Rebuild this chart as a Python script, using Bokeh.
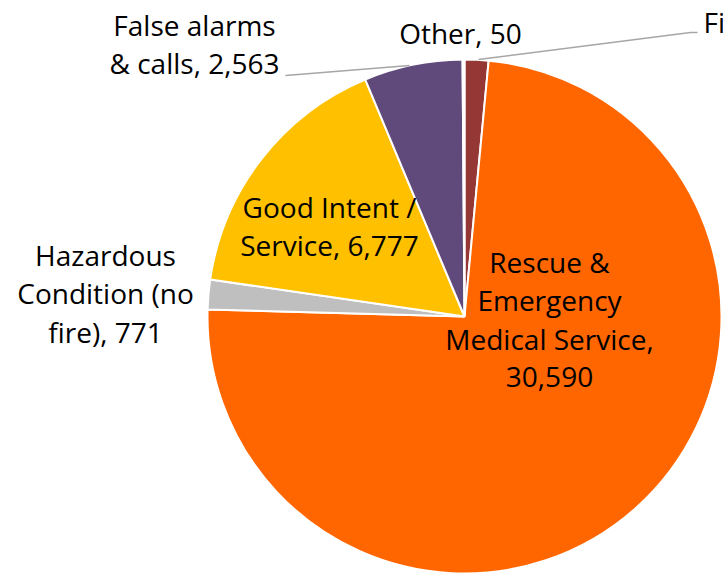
import math
from bokeh.plotting import figure
from bokeh.models import ColumnDataSource, Range1d
from bokeh.core.properties import value
from bokeh.embed import file_html
from bokeh.resources import INLINE

# ---- data ----
categories = ["Fire", "Rescue & Emergency Medical Service", "Hazardous Condition (no fire)",
              "Good Intent / Service", "False alarms & calls", "Other"]
values = [620, 30590, 771, 6777, 2563, 50]
colors = ["#953735", "#FF6600", "#BFBFBF", "#FFC000", "#604A7B", "#4BACC6"]
label_templates = ["Fire, {v}", "Rescue &\nEmergency\nMedical Service,\n{v}",
                   "Hazardous\nCondition (no\nfire), {v}", "Good Intent /\nService, {v}",
                   "False alarms\n& calls, {v}", "Other, {v}"]

# ---- layout (picture pixel coordinates) ----
W, H = 723, 578
def fx(wx): return wx
def fy(wy): return H - wy

cx, cy, R = 464, 316, 257
# label anchor: (x, first baseline, align)
label_pos = [(703, 32, "left"), (549, 272, "center"), (105, 265, "center"),
             (329, 217, "center"), (194, 35, "center"), (460, 43, "center")]
text_shift = -11
line_gap = 38.5
leaders = {0: [(478, 59), (690, 32), (697, 32)], 4: [(285, 75), (409, 65)]}

p = figure(width=W, height=H, output_backend="svg", toolbar_location=None,
           x_range=Range1d(0, W), y_range=Range1d(0, H), min_border=0)
p.axis.visible = False
p.grid.visible = False
p.outline_line_color = None
p.background_fill_color = "white"
p.border_fill_color = "white"

total = sum(values)
starts, ends = [], []
cum = 0.0
for v in values:
    starts.append(math.pi / 2 - cum / total * 2 * math.pi)
    cum += v
    ends.append(math.pi / 2 - cum / total * 2 * math.pi)

src = ColumnDataSource(dict(x=[fx(cx)] * len(values), y=[fy(cy)] * len(values),
                            start=starts, end=ends, color=colors, cat=categories, val=values))
p.wedge(x="x", y="y", radius=R, start_angle="start", end_angle="end", direction="clock",
        fill_color="color", line_color="white", line_width=2, source=src)

for i, pts in leaders.items():
    p.line([fx(a) for a, b in pts], [fy(b) for a, b in pts], line_color="#A6A6A6", line_width=1.5)

tx, ty, tt, ta = [], [], [], []
for i, (v, tmpl) in enumerate(zip(values, label_templates)):
    text = tmpl.format(v=f"{v:,}")
    x0, y0, al = label_pos[i]
    for k, line in enumerate(text.split("\n")):
        tx.append(fx(x0)); ty.append(fy(y0 + text_shift + k * line_gap)); tt.append(line); ta.append(al)

tsrc = ColumnDataSource(dict(x=tx, y=ty, text=tt, align=ta))
p.text(x="x", y="y", text="text", text_align="align", text_baseline="alphabetic",
       text_font=value("Open Sans"), text_font_size="28px", text_color="#000000", source=tsrc)

open("out.html", "w").write(file_html(p, INLINE))
